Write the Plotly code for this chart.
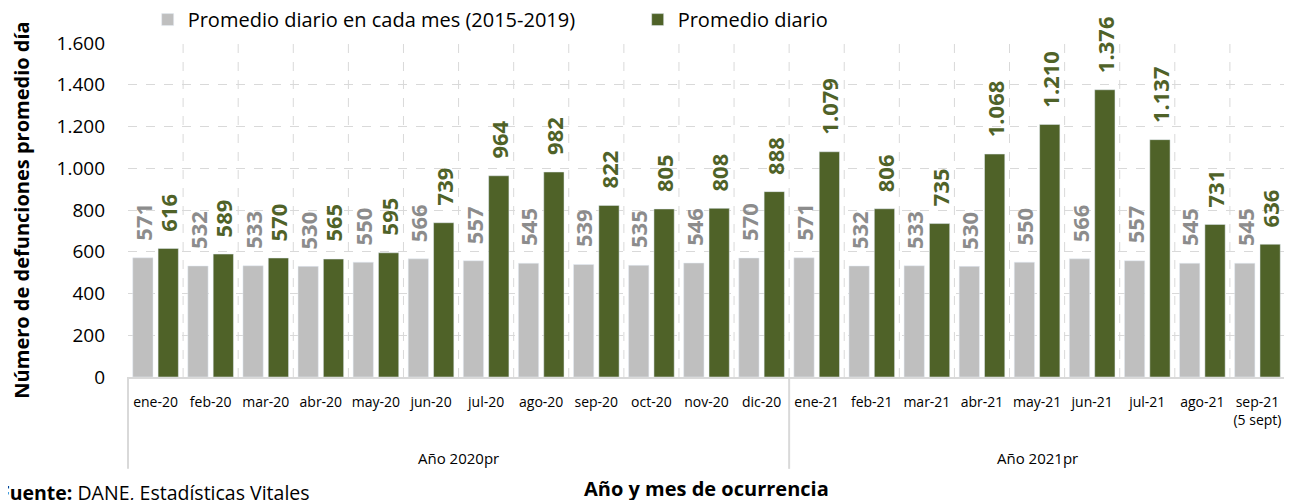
import plotly.graph_objects as go

months_2020 = ["ene-20", "feb-20", "mar-20", "abr-20", "may-20", "jun-20",
               "jul-20", "ago-20", "sep-20", "oct-20", "nov-20", "dic-20"]
months_2021 = ["ene-21", "feb-21", "mar-21", "abr-21", "may-21", "jun-21",
               "jul-21", "ago-21", "sep-21<br>(5 sept)"]
year_labels = ["Año 2020pr", "Año 2021pr"]

promedio_hist = [571, 532, 533, 530, 550, 566, 557, 545, 539, 535, 546, 570,
                 571, 532, 533, 530, 550, 566, 557, 545, 545]
promedio_diario = [616, 589, 570, 565, 595, 739, 964, 982, 822, 805, 808, 888,
                   1079, 806, 735, 1068, 1210, 1376, 1137, 731, 636]

y_ticks = [0, 200, 400, 600, 800, 1000, 1200, 1400, 1600]

GREY = "#bfbfbf"
GREY_TXT = "#8c8c8c"
GREEN = "#4f6228"
LINE = "#d9d9d9"
FONT = "Open Sans"

cats = months_2020 + months_2021
n = len(cats)
xs = list(range(n))


def fmt(v):
    return f"{v:,}".replace(",", ".")


fig = go.Figure()
fig.add_trace(go.Bar(x=xs, y=promedio_hist, name="Promedio diario en cada mes (2015-2019)",
                     marker_color=GREY))
fig.add_trace(go.Bar(x=xs, y=promedio_diario, name="Promedio diario",
                     marker_color=GREEN))

annotations = []
for i, (a, b) in enumerate(zip(promedio_hist, promedio_diario)):
    annotations.append(dict(x=i, y=a, xref="x", yref="y", text=f"<b>{fmt(a)}</b>",
                            showarrow=False, textangle=-90, xanchor="center", yanchor="bottom",
                            xshift=-12.7, yshift=15, font=dict(size=22, color=GREY_TXT, family=FONT)))
    annotations.append(dict(x=i, y=b, xref="x", yref="y", text=f"<b>{fmt(b)}</b>",
                            showarrow=False, textangle=-90, xanchor="center", yanchor="bottom",
                            xshift=12.7, yshift=15, font=dict(size=22, color=GREEN, family=FONT)))

# year group labels
groups = [(0, len(months_2020)), (len(months_2020), n)]
for (s, e), lab in zip(groups, year_labels):
    annotations.append(dict(x=(s + e - 1) / 2, xref="x", y=-0.243, yref="paper", text=lab,
                            showarrow=False, xanchor="center", yanchor="middle",
                            font=dict(size=15, color="#000000", family=FONT)))

annotations.append(dict(x=0.5, xref="paper", y=-0.333, yref="paper",
                        text="<b>Año y mes de ocurrencia</b>", showarrow=False,
                        xanchor="center", yanchor="middle",
                        font=dict(size=20, color="#000000", family=FONT)))
annotations.append(dict(x=-0.113, xref="paper", y=-0.346, yref="paper",
                        text="<b>Fuente:</b> DANE, Estadísticas Vitales", showarrow=False,
                        xanchor="left", yanchor="middle",
                        font=dict(size=19.5, color="#000000", family=FONT)))

shapes = []
for frac in [0, len(months_2020) / n, 1]:
    shapes.append(dict(type="line", xref="x domain", yref="paper", x0=frac, x1=frac,
                       y0=0, y1=-0.275, line=dict(color=LINE, width=2)))

fig.update_layout(
    width=1284, height=492,
    margin=dict(l=120, r=7, t=35, b=123, autoexpand=False),
    paper_bgcolor="white", plot_bgcolor="white",
    separators=",.",
    barmode="group", bargap=0.08, bargroupgap=0.2,
    font=dict(family=FONT, color="#000000"),
    legend=dict(orientation="h", x=0.017, y=1.07, xanchor="left", yanchor="middle",
                font=dict(size=20, color="#000000", family=FONT),
                itemwidth=30, entrywidth=445, entrywidthmode="pixels",
                bgcolor="rgba(0,0,0,0)"),
    annotations=annotations,
    shapes=shapes,
)
fig.update_xaxes(
    type="linear", range=[-0.5, n - 0.5],
    tickmode="array", tickvals=xs, ticktext=cats,
    showgrid=False, zeroline=False,
    showline=True, linecolor=LINE, linewidth=2,
    ticks="", ticklabelstandoff=11,
    tickfont=dict(size=14, color="#000000", family=FONT),
)
# vertical dashed gridlines at category boundaries
for i in range(1, n):
    fig.add_vline(x=i - 0.5, line=dict(color=LINE, width=1, dash="dash"), layer="below")
fig.update_yaxes(
    range=[0, 1600], tickvals=y_ticks, tickformat=",d",
    showgrid=True, gridcolor=LINE, griddash="dash", gridwidth=1,
    zeroline=False, showline=False, ticks="", ticklabelstandoff=22,
    tickfont=dict(size=19, color="#000000", family=FONT),
    title=dict(text="<b>Número de defunciones promedio día</b>",
               font=dict(size=20, color="#000000", family=FONT), standoff=26),
)

fig.write_html("out.html")
